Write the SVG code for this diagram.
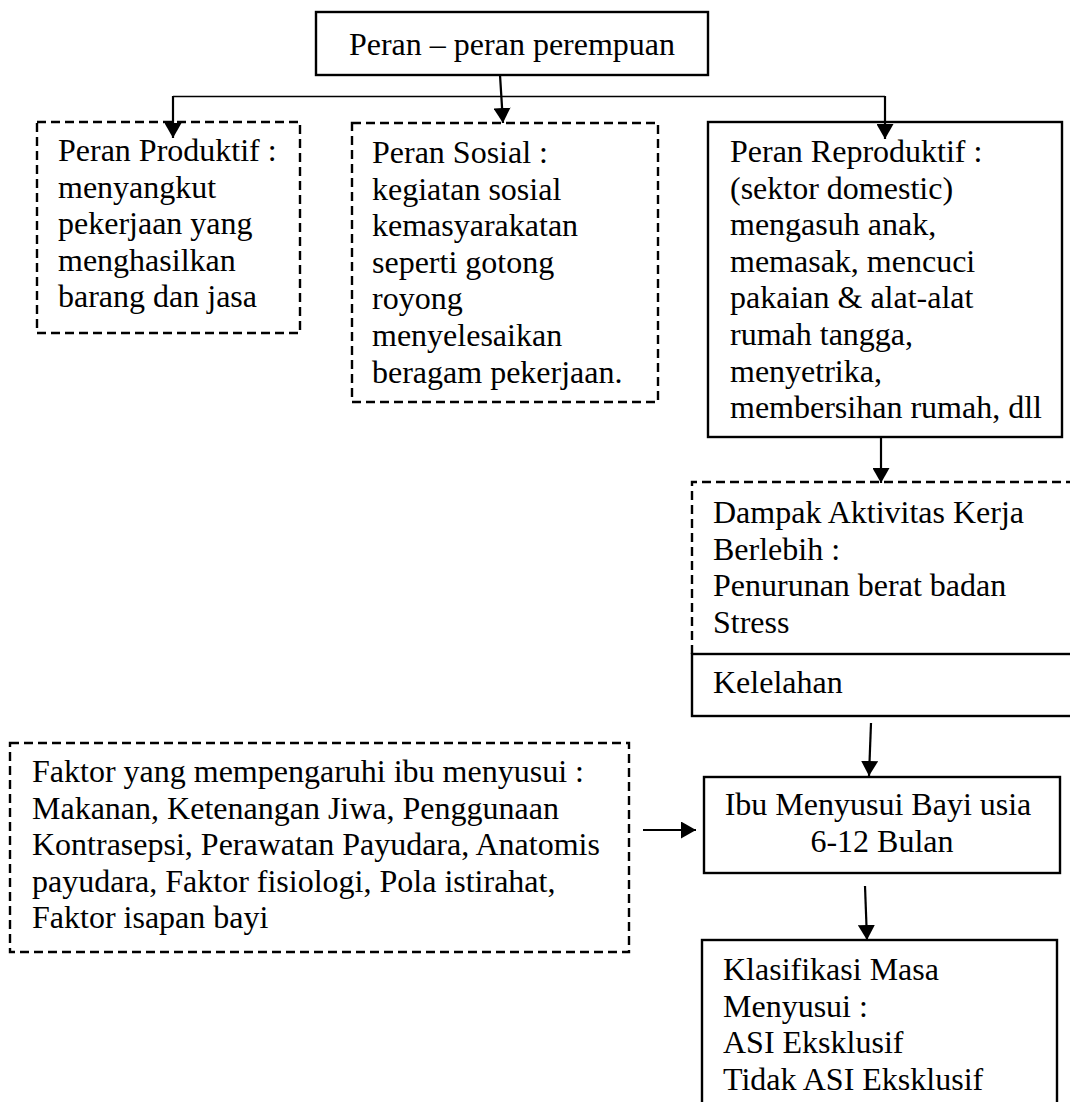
<svg xmlns="http://www.w3.org/2000/svg" width="1070" height="1102" viewBox="0 0 1070 1102">
<style>
  .box { fill: #ffffff; stroke: #000000; stroke-width: 2.4; }
  .dash { fill: #ffffff; stroke: #000000; stroke-width: 2.4; stroke-dasharray: 9 5; }
  .t { font-family: "Liberation Serif", "Times New Roman", serif; font-size: 32px; fill: #000000; }
  .c { text-anchor: middle; }
  .conn { stroke: #000000; stroke-width: 2.2; fill: none; }
  .thin { stroke: #000000; stroke-width: 1.4; fill: none; }
</style>
<defs>
  <marker id="ah" markerUnits="userSpaceOnUse" markerWidth="17" markerHeight="17" refX="15" refY="8.5" orient="auto">
    <path d="M0,0 L15,8.5 L0,17 z" fill="#000000"/>
  </marker>
</defs>
<rect x="0" y="0" width="1070" height="1102" fill="#ffffff"/>

<g id="n_top">
  <rect class="box" x="316" y="12" width="392" height="63"/>
  <text class="t c" x="512" y="55">Peran – peran perempuan</text>
</g>

<g id="n_produktif">
  <rect class="dash" x="37" y="122" width="263" height="211"/>
  <text class="t" x="58" y="161">
    <tspan x="58" y="161">Peran Produktif :</tspan>
    <tspan x="58" y="197.6">menyangkut</tspan>
    <tspan x="58" y="234.2">pekerjaan yang</tspan>
    <tspan x="58" y="270.8">menghasilkan</tspan>
    <tspan x="58" y="307.4">barang dan jasa</tspan>
  </text>
</g>

<g id="n_sosial">
  <rect class="dash" x="352" y="123" width="306" height="279"/>
  <text class="t" x="372" y="163">
    <tspan x="372" y="163">Peran Sosial :</tspan>
    <tspan x="372" y="199.6">kegiatan sosial</tspan>
    <tspan x="372" y="236.2">kemasyarakatan</tspan>
    <tspan x="372" y="272.8">seperti gotong</tspan>
    <tspan x="372" y="309.4">royong</tspan>
    <tspan x="372" y="346">menyelesaikan</tspan>
    <tspan x="372" y="382.6">beragam pekerjaan.</tspan>
  </text>
</g>

<g id="n_reproduktif">
  <rect class="box" x="708" y="122" width="354" height="315"/>
  <text class="t" x="730" y="162">
    <tspan x="730" y="162">Peran Reproduktif :</tspan>
    <tspan x="730" y="198.6">(sektor domestic)</tspan>
    <tspan x="730" y="235.2">mengasuh anak,</tspan>
    <tspan x="730" y="271.8">memasak, mencuci</tspan>
    <tspan x="730" y="308.4">pakaian &amp; alat-alat</tspan>
    <tspan x="730" y="345">rumah tangga,</tspan>
    <tspan x="730" y="381.6">menyetrika,</tspan>
    <tspan x="730" y="418.2">membersihan rumah, dll</tspan>
  </text>
</g>

<g id="n_dampak">
  <path class="dash" d="M1075,482 H692 V654" fill="none"/>
  <text class="t" x="713" y="523">
    <tspan x="713" y="523">Dampak Aktivitas Kerja</tspan>
    <tspan x="713" y="559.6">Berlebih :</tspan>
    <tspan x="713" y="596.2">Penurunan berat badan</tspan>
    <tspan x="713" y="632.8">Stress</tspan>
  </text>
</g>

<g id="n_kelelahan">
  <rect class="box" x="692" y="654" width="400" height="62"/>
  <text class="t" x="713" y="693">Kelelahan</text>
</g>

<g id="n_faktor">
  <rect class="dash" x="10" y="743" width="619" height="209"/>
  <text class="t" x="32" y="782">
    <tspan x="32" y="782">Faktor yang mempengaruhi ibu menyusui :</tspan>
    <tspan x="32" y="818.6">Makanan, Ketenangan Jiwa, Penggunaan</tspan>
    <tspan x="32" y="855.2">Kontrasepsi, Perawatan Payudara, Anatomis</tspan>
    <tspan x="32" y="891.8">payudara, Faktor fisiologi, Pola istirahat,</tspan>
    <tspan x="32" y="928.4">Faktor isapan bayi</tspan>
  </text>
</g>

<g id="n_ibu">
  <rect class="box" x="704" y="777" width="356" height="96"/>
  <text class="t c" x="882" y="815">
    <tspan x="882" y="815">Ibu Menyusui Bayi usia</tspan>
    <tspan x="882" y="852">6-12 Bulan</tspan>
  </text>
</g>

<g id="n_klasifikasi">
  <rect class="box" x="702" y="940" width="355" height="180"/>
  <text class="t" x="723" y="980">
    <tspan x="723" y="980">Klasifikasi Masa</tspan>
    <tspan x="723" y="1016.6">Menyusui :</tspan>
    <tspan x="723" y="1053.2">ASI Eksklusif</tspan>
    <tspan x="723" y="1089.8">Tidak ASI Eksklusif</tspan>
  </text>
</g>

<g id="connectors">
  <line class="thin" x1="173" y1="96.5" x2="885" y2="96.5"/>
  <line class="conn" x1="173" y1="96" x2="173" y2="138" marker-end="url(#ah)"/>
  <line class="conn" x1="500" y1="75" x2="503" y2="123" marker-end="url(#ah)"/>
  <line class="conn" x1="885" y1="96" x2="885" y2="139" marker-end="url(#ah)"/>
  <line class="conn" x1="881" y1="437" x2="881" y2="483" marker-end="url(#ah)"/>
  <line class="conn" x1="871" y1="723" x2="869" y2="776" marker-end="url(#ah)"/>
  <line class="conn" x1="865" y1="886" x2="867" y2="940" marker-end="url(#ah)"/>
  <line class="conn" x1="643" y1="830" x2="696" y2="830" marker-end="url(#ah)"/>
</g>
</svg>
